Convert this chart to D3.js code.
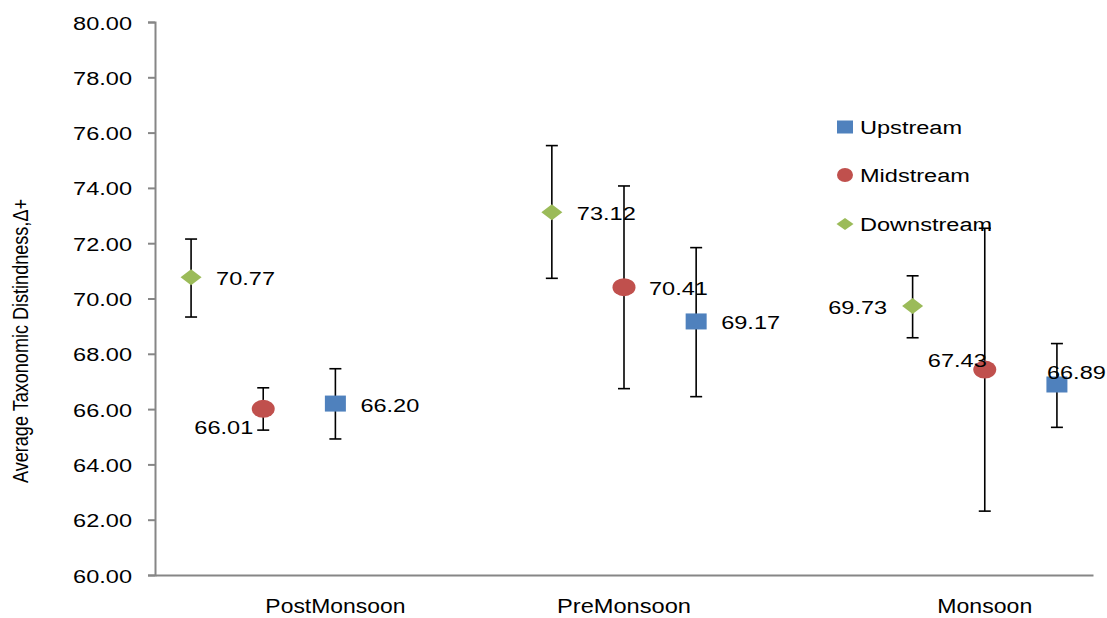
<!DOCTYPE html>
<html>
<head>
<meta charset="utf-8">
<script src="https://cdn.jsdelivr.net/npm/d3@7"></script>
<style>
  body { margin: 0; background: #fff; }
  svg { display: block; }
  text { font-family: "Liberation Sans", Arial, sans-serif; fill: #000; }
</style>
</head>
<body>
<svg id="chart" width="1107" height="618"></svg>
<script>
// ---- data ----
const seasons = ["PostMonsoon", "PreMonsoon", "Monsoon"];
const seasonPos = [2.5, 6.5, 11.5];
const seriesNames = ["Upstream", "Midstream", "Downstream"];
const seriesColors = ["#4F81BD", "#C0504D", "#9BBB59"];
const seriesShapes = ["square", "circle", "diamond"];
// x positions of points per series (PostMonsoon, PreMonsoon, Monsoon)
const upstreamX = [2.5, 7.5, 12.5];
const midstreamX = [1.5, 6.5, 11.5];
const downstreamX = [0.5, 5.5, 10.5];
const upstreamValues = [66.20, 69.17, 66.89];
const midstreamValues = [66.01, 70.41, 67.43];
const downstreamValues = [70.77, 73.12, 69.73];
const upstreamErrLow = [64.92, 66.45, 65.34];
const upstreamErrHigh = [67.46, 71.84, 68.37];
const midstreamErrLow = [65.24, 66.74, 62.31];
const midstreamErrHigh = [66.77, 74.07, 72.54];
const downstreamErrLow = [69.33, 70.73, 68.58];
const downstreamErrHigh = [72.15, 75.53, 70.82];
const upstreamLabelPos = ["right", "right", "overLeft"];
const midstreamLabelPos = ["belowLeft", "right", "aboveLeft"];
const downstreamLabelPos = ["right", "right", "left"];
const yTicks = [60, 62, 64, 66, 68, 70, 72, 74, 76, 78, 80];
const yTitle = "Average Taxonomic Distindness,\u0394+";

// ---- layout ----
const svg = d3.select("#chart");
const x = d3.scaleLinear().domain([0, 13]).range([155, 1093]);
const y = d3.scaleLinear().domain([60, 80]).range([575, 22]);
const SX = 1.24; // horizontal stretch of glyphs in reference

const series = [
  { name: seriesNames[0], color: seriesColors[0], shape: seriesShapes[0], xs: upstreamX, vals: upstreamValues, lo: upstreamErrLow, hi: upstreamErrHigh, lp: upstreamLabelPos },
  { name: seriesNames[1], color: seriesColors[1], shape: seriesShapes[1], xs: midstreamX, vals: midstreamValues, lo: midstreamErrLow, hi: midstreamErrHigh, lp: midstreamLabelPos },
  { name: seriesNames[2], color: seriesColors[2], shape: seriesShapes[2], xs: downstreamX, vals: downstreamValues, lo: downstreamErrLow, hi: downstreamErrHigh, lp: downstreamLabelPos }
];

function stretchedText(g, tx, ty, str, anchor, size) {
  return g.append("text")
    .attr("transform", `translate(${tx},${ty}) scale(${SX},1)`)
    .attr("text-anchor", anchor)
    .style("font-size", size + "px")
    .text(str);
}

function drawMarker(g, shape, cx, cy, color, w, h) {
  if (shape === "square") {
    g.append("rect").attr("x", cx - w / 2).attr("y", cy - h / 2)
      .attr("width", w).attr("height", h).attr("fill", color);
  } else if (shape === "circle") {
    g.append("ellipse").attr("cx", cx).attr("cy", cy)
      .attr("rx", w / 2).attr("ry", h / 2).attr("fill", color);
  } else {
    g.append("path")
      .attr("d", `M${cx - w / 2},${cy}L${cx},${cy - h / 2}L${cx + w / 2},${cy}L${cx},${cy + h / 2}Z`)
      .attr("fill", color);
  }
}

// ---- axes ----
const yAxis = d3.axisLeft(y).tickValues(yTicks).tickSize(7).tickFormat(d3.format(".2f"));
const yg = svg.append("g").attr("transform", `translate(155,0)`).call(yAxis);
yg.select(".domain").attr("stroke", "#868686").attr("stroke-width", 2);
yg.selectAll(".tick line").attr("stroke", "#868686").attr("stroke-width", 2);
yg.selectAll(".tick text").remove();
yg.selectAll(".tick").each(function (d) {
  stretchedText(d3.select(this), -23, 7, d3.format(".2f")(d), "end", 19);
});

const xAxis = d3.axisBottom(x).tickValues([]).tickSizeOuter(0);
const xg = svg.append("g").attr("transform", `translate(0,575)`).call(xAxis);
xg.select(".domain").attr("stroke", "#868686").attr("stroke-width", 2);

// category labels
seasons.forEach((s, i) => {
  svg.append("text")
    .attr("x", x(seasonPos[i])).attr("y", 613)
    .attr("text-anchor", "middle")
    .style("font-family", "'Liberation Sans Narrow', 'Liberation Sans', Arial, sans-serif")
    .style("font-size", "20px")
    .attr("textLength", [140, 134, 95][i])
    .attr("lengthAdjust", "spacingAndGlyphs")
    .text(s);
});

// y title
svg.append("text")
  .attr("transform", `translate(28,341) rotate(-90)`)
  .attr("text-anchor", "middle")
  .style("font-family", "'Liberation Sans Narrow', 'Liberation Sans', Arial, sans-serif")
  .style("font-size", "22px")
  .attr("textLength", 284)
  .attr("lengthAdjust", "spacingAndGlyphs")
  .text(yTitle);

// ---- error bars ----
const eg = svg.append("g");
series.forEach(s => {
  s.vals.forEach((v, i) => {
    const cx = x(s.xs[i]);
    eg.append("line").attr("x1", cx).attr("x2", cx).attr("y1", y(s.lo[i])).attr("y2", y(s.hi[i]))
      .attr("stroke", "#000").attr("stroke-width", 1.6);
    [s.lo[i], s.hi[i]].forEach(e => {
      eg.append("line").attr("x1", cx - 6).attr("x2", cx + 6).attr("y1", y(e)).attr("y2", y(e))
        .attr("stroke", "#000").attr("stroke-width", 1.6);
    });
  });
});

// ---- markers ----
const mg = svg.append("g");
const markerSize = { square: [21, 16], circle: [23, 18], diamond: [21, 16] };
series.forEach(s => {
  s.vals.forEach((v, i) => {
    const [w, h] = markerSize[s.shape];
    drawMarker(mg, s.shape, x(s.xs[i]), y(v), s.color, w, h);
  });
});

// ---- data labels ----
const lg = svg.append("g");
const labelOffsets = {
  right: [25, 8, "start"],
  left: [-25.5, 8, "end"],
  belowLeft: [-10, 25, "end"],
  aboveLeft: [2, -3, "end"],
  overLeft: [-10, -5, "start"]
};
series.forEach(s => {
  s.vals.forEach((v, i) => {
    const [dx, dy, anchor] = labelOffsets[s.lp[i]];
    stretchedText(lg, x(s.xs[i]) + dx, y(v) + dy, v.toFixed(2), anchor, 19);
  });
});

// ---- legend ----
const leg = svg.append("g");
const legendMarker = { square: [16, 13], circle: [16, 14], diamond: [17, 12] };
const legendY = [127, 175, 224];
series.forEach((s, i) => {
  const [w, h] = legendMarker[s.shape];
  drawMarker(leg, s.shape, 845, legendY[i], s.color, w, h);
  stretchedText(leg, 860, legendY[i] + 7, s.name, "start", 19);
});
</script>
</body>
</html>
